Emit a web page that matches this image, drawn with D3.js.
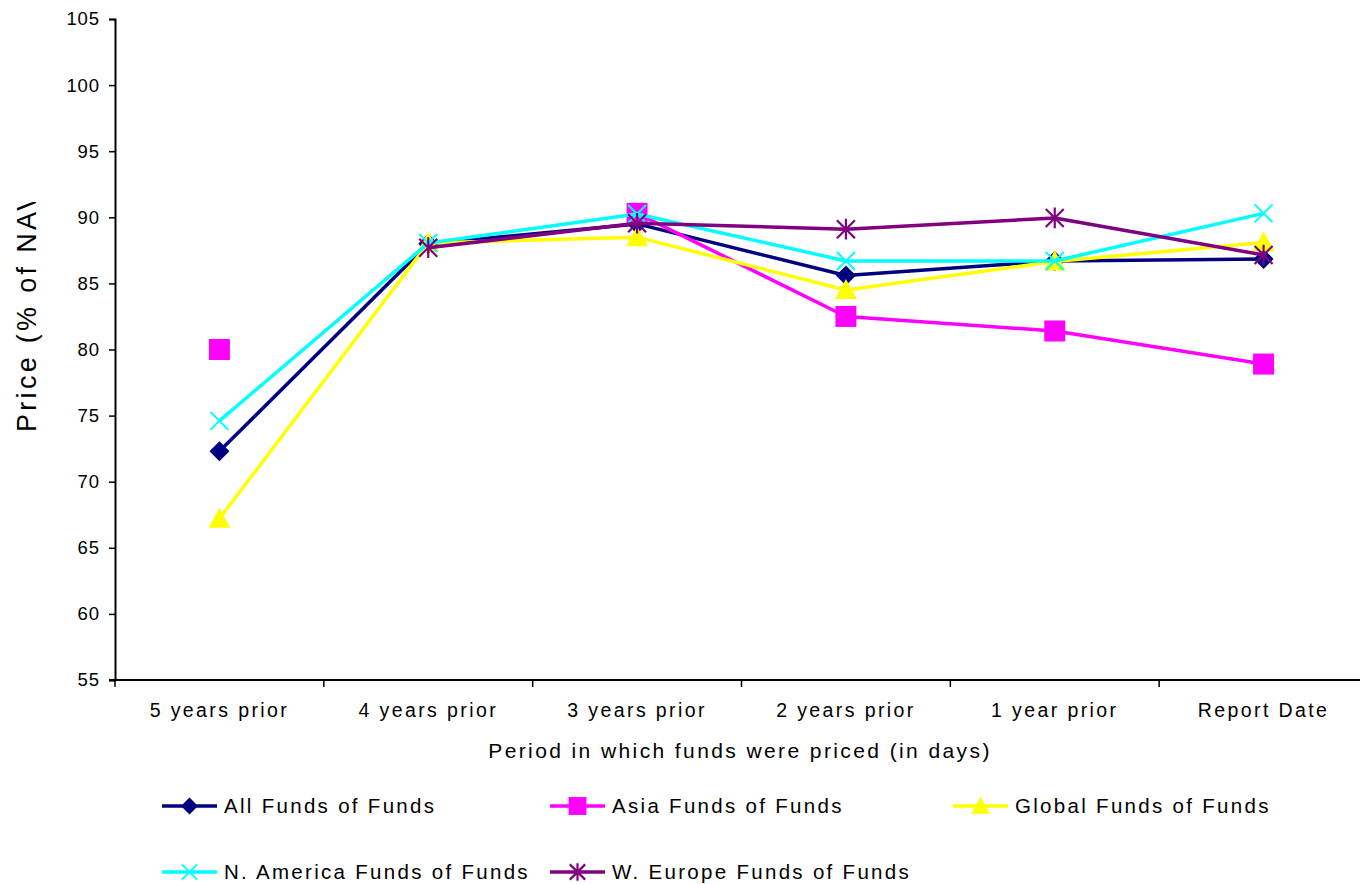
<!DOCTYPE html>
<html>
<head>
<meta charset="utf-8">
<script src="https://cdn.jsdelivr.net/npm/d3@7"></script>
<style>
  html, body { margin: 0; padding: 0; background: #fff; }
  svg { display: block; font-family: "Liberation Sans", Arial, sans-serif; }
</style>
</head>
<body>
<svg id="chart" width="1360" height="884"></svg>
<script>
// Periods on the category axis
const periods = ["5 years prior", "4 years prior", "3 years prior", "2 years prior", "1 year prior", "Report Date"];

// Price as % of NAV for each fund-of-funds group (null = not reported)
const allFunds      = [72.3, 88.0, 89.5, 85.6, 86.7, 86.85];
const asiaFunds     = [80.0, null, 90.3, 82.5, 81.4, 78.9];
const globalFunds   = [67.2, 88.05, 88.5, 84.5, 86.65, 88.1];
const nAmericaFunds = [74.6, 88.05, 90.25, 86.7, 86.7, 90.3];
const wEuropeFunds  = [null, 87.7, 89.55, 89.1, 89.95, 87.15];

const yTicks = [55, 60, 65, 70, 75, 80, 85, 90, 95, 100, 105];

const seriesNames = ["All Funds of Funds", "Asia Funds of Funds", "Global Funds of Funds",
                     "N. America Funds of Funds", "W. Europe Funds of Funds"];

const series = [
  { name: seriesNames[0], values: allFunds,      color: "#000080", marker: "diamond" },
  { name: seriesNames[1], values: asiaFunds,     color: "#ff00ff", marker: "square" },
  { name: seriesNames[2], values: globalFunds,   color: "#ffff00", marker: "triangle" },
  { name: seriesNames[3], values: nAmericaFunds, color: "#00ffff", marker: "x" },
  { name: seriesNames[4], values: wEuropeFunds,  color: "#800080", marker: "star" }
];

const svg = d3.select("#chart");
const plot = { left: 115, right: 1368, top: 19, bottom: 680 };

const x = d3.scaleBand().domain(periods).range([plot.left, plot.right]).padding(0);
const y = d3.scaleLinear().domain([55, 105]).range([plot.bottom, plot.top]);
const cx = p => x(p) + x.bandwidth() / 2;

// Y axis
const yAxis = svg.append("g")
  .attr("transform", `translate(${plot.left},0)`)
  .call(d3.axisLeft(y).tickValues(yTicks).tickSize(6).tickPadding(9).tickFormat(d3.format("d")));
yAxis.select(".domain").attr("stroke", "#000").attr("stroke-width", 2);
yAxis.selectAll(".tick line").attr("stroke", "#000").attr("stroke-width", 1.5);
yAxis.selectAll(".tick text").attr("font-size", 18.5).attr("fill", "#000")
  .attr("letter-spacing", 0.9)
  .attr("font-family", "Liberation Sans, Arial, sans-serif");

// X axis: labels at category centres, ticks at category boundaries
const xAxis = svg.append("g").attr("transform", `translate(0,${plot.bottom})`);
xAxis.append("line")
  .attr("x1", plot.left - 6).attr("x2", plot.right)
  .attr("stroke", "#000").attr("stroke-width", 2);
const boundaries = periods.map(p => x(p)).concat([plot.right]);
xAxis.selectAll("line.tick").data(boundaries).join("line")
  .attr("class", "tick")
  .attr("x1", d => d).attr("x2", d => d)
  .attr("y1", 0).attr("y2", 7)
  .attr("stroke", "#000").attr("stroke-width", 1.5);
xAxis.selectAll("text").data(periods).join("text")
  .attr("x", d => cx(d)).attr("y", 37)
  .attr("text-anchor", "middle")
  .attr("font-size", 19.5)
  .attr("letter-spacing", 2.4)
  .text(d => d);

// Axis titles
svg.append("text")
  .attr("x", 740).attr("y", 758)
  .attr("text-anchor", "middle")
  .attr("font-size", 21)
  .attr("letter-spacing", 2.4)
  .text("Period in which funds were priced (in days)");

// The vertical title runs past the top of its box and is cut off there
svg.append("clipPath").attr("id", "ytitle-clip")
  .append("rect").attr("x", 0).attr("y", 202).attr("width", 80).attr("height", 700);
svg.append("g")
  .attr("clip-path", "url(#ytitle-clip)")
  .append("text")
  .attr("transform", "translate(36,432) rotate(-90)")
  .attr("text-anchor", "start")
  .attr("font-size", 27)
  .attr("letter-spacing", 3.3)
  .text("Price (% of NAV)");

// Markers
function drawMarker(g, type, color, px, py, scale = 1) {
  const s = scale;
  if (type === "diamond") {
    g.append("path")
      .attr("d", `M${px},${py - 10 * s}L${px + 10 * s},${py}L${px},${py + 10 * s}L${px - 10 * s},${py}Z`)
      .attr("fill", color);
  } else if (type === "square") {
    g.append("rect")
      .attr("x", px - 10.5 * s).attr("y", py - 10.5 * s)
      .attr("width", 21 * s).attr("height", 21 * s)
      .attr("fill", color);
  } else if (type === "triangle") {
    g.append("path")
      .attr("d", `M${px},${py - 11 * s}L${px + 11 * s},${py + 9 * s}L${px - 11 * s},${py + 9 * s}Z`)
      .attr("fill", color);
  } else if (type === "x") {
    const r = 9 * s;
    g.append("path")
      .attr("d", `M${px - r},${py - r}L${px + r},${py + r}M${px - r},${py + r}L${px + r},${py - r}`)
      .attr("stroke", color).attr("stroke-width", 2).attr("fill", "none");
  } else if (type === "star") {
    const r = 9 * s;
    g.append("path")
      .attr("d", `M${px - r},${py - r}L${px + r},${py + r}M${px - r},${py + r}L${px + r},${py - r}M${px},${py - r * 1.15}L${px},${py + r * 1.15}`)
      .attr("stroke", color).attr("stroke-width", 2.2).attr("fill", "none");
  }
}

// Series lines and markers
const line = d3.line()
  .defined(d => d.v != null)
  .x(d => cx(d.p))
  .y(d => y(d.v));

const seriesG = svg.append("g");
series.forEach(s => {
  const pts = periods.map((p, i) => ({ p, v: s.values[i] }));
  const g = seriesG.append("g");
  g.append("path")
    .datum(pts)
    .attr("d", line)
    .attr("fill", "none")
    .attr("stroke", s.color)
    .attr("stroke-width", 3.5)
    .attr("stroke-linejoin", "round");
  pts.filter(d => d.v != null).forEach(d => drawMarker(g, s.marker, s.color, cx(d.p), y(d.v)));
});

// Legend
const legendPos = [
  { x: 162, y: 806 }, { x: 550, y: 806 }, { x: 953, y: 806 },
  { x: 162, y: 872 }, { x: 550, y: 872 }
];
const legend = svg.append("g");
series.forEach((s, i) => {
  const p = legendPos[i];
  const g = legend.append("g");
  g.append("line")
    .attr("x1", p.x).attr("x2", p.x + 55)
    .attr("y1", p.y).attr("y2", p.y)
    .attr("stroke", s.color).attr("stroke-width", 3.5);
  drawMarker(g, s.marker, s.color, p.x + 27.5, p.y, 0.85);
  g.append("text")
    .attr("x", p.x + 62).attr("y", p.y + 7)
    .attr("font-size", 20.5)
    .attr("letter-spacing", 2.3)
    .text(s.name);
});
</script>
</body>
</html>
